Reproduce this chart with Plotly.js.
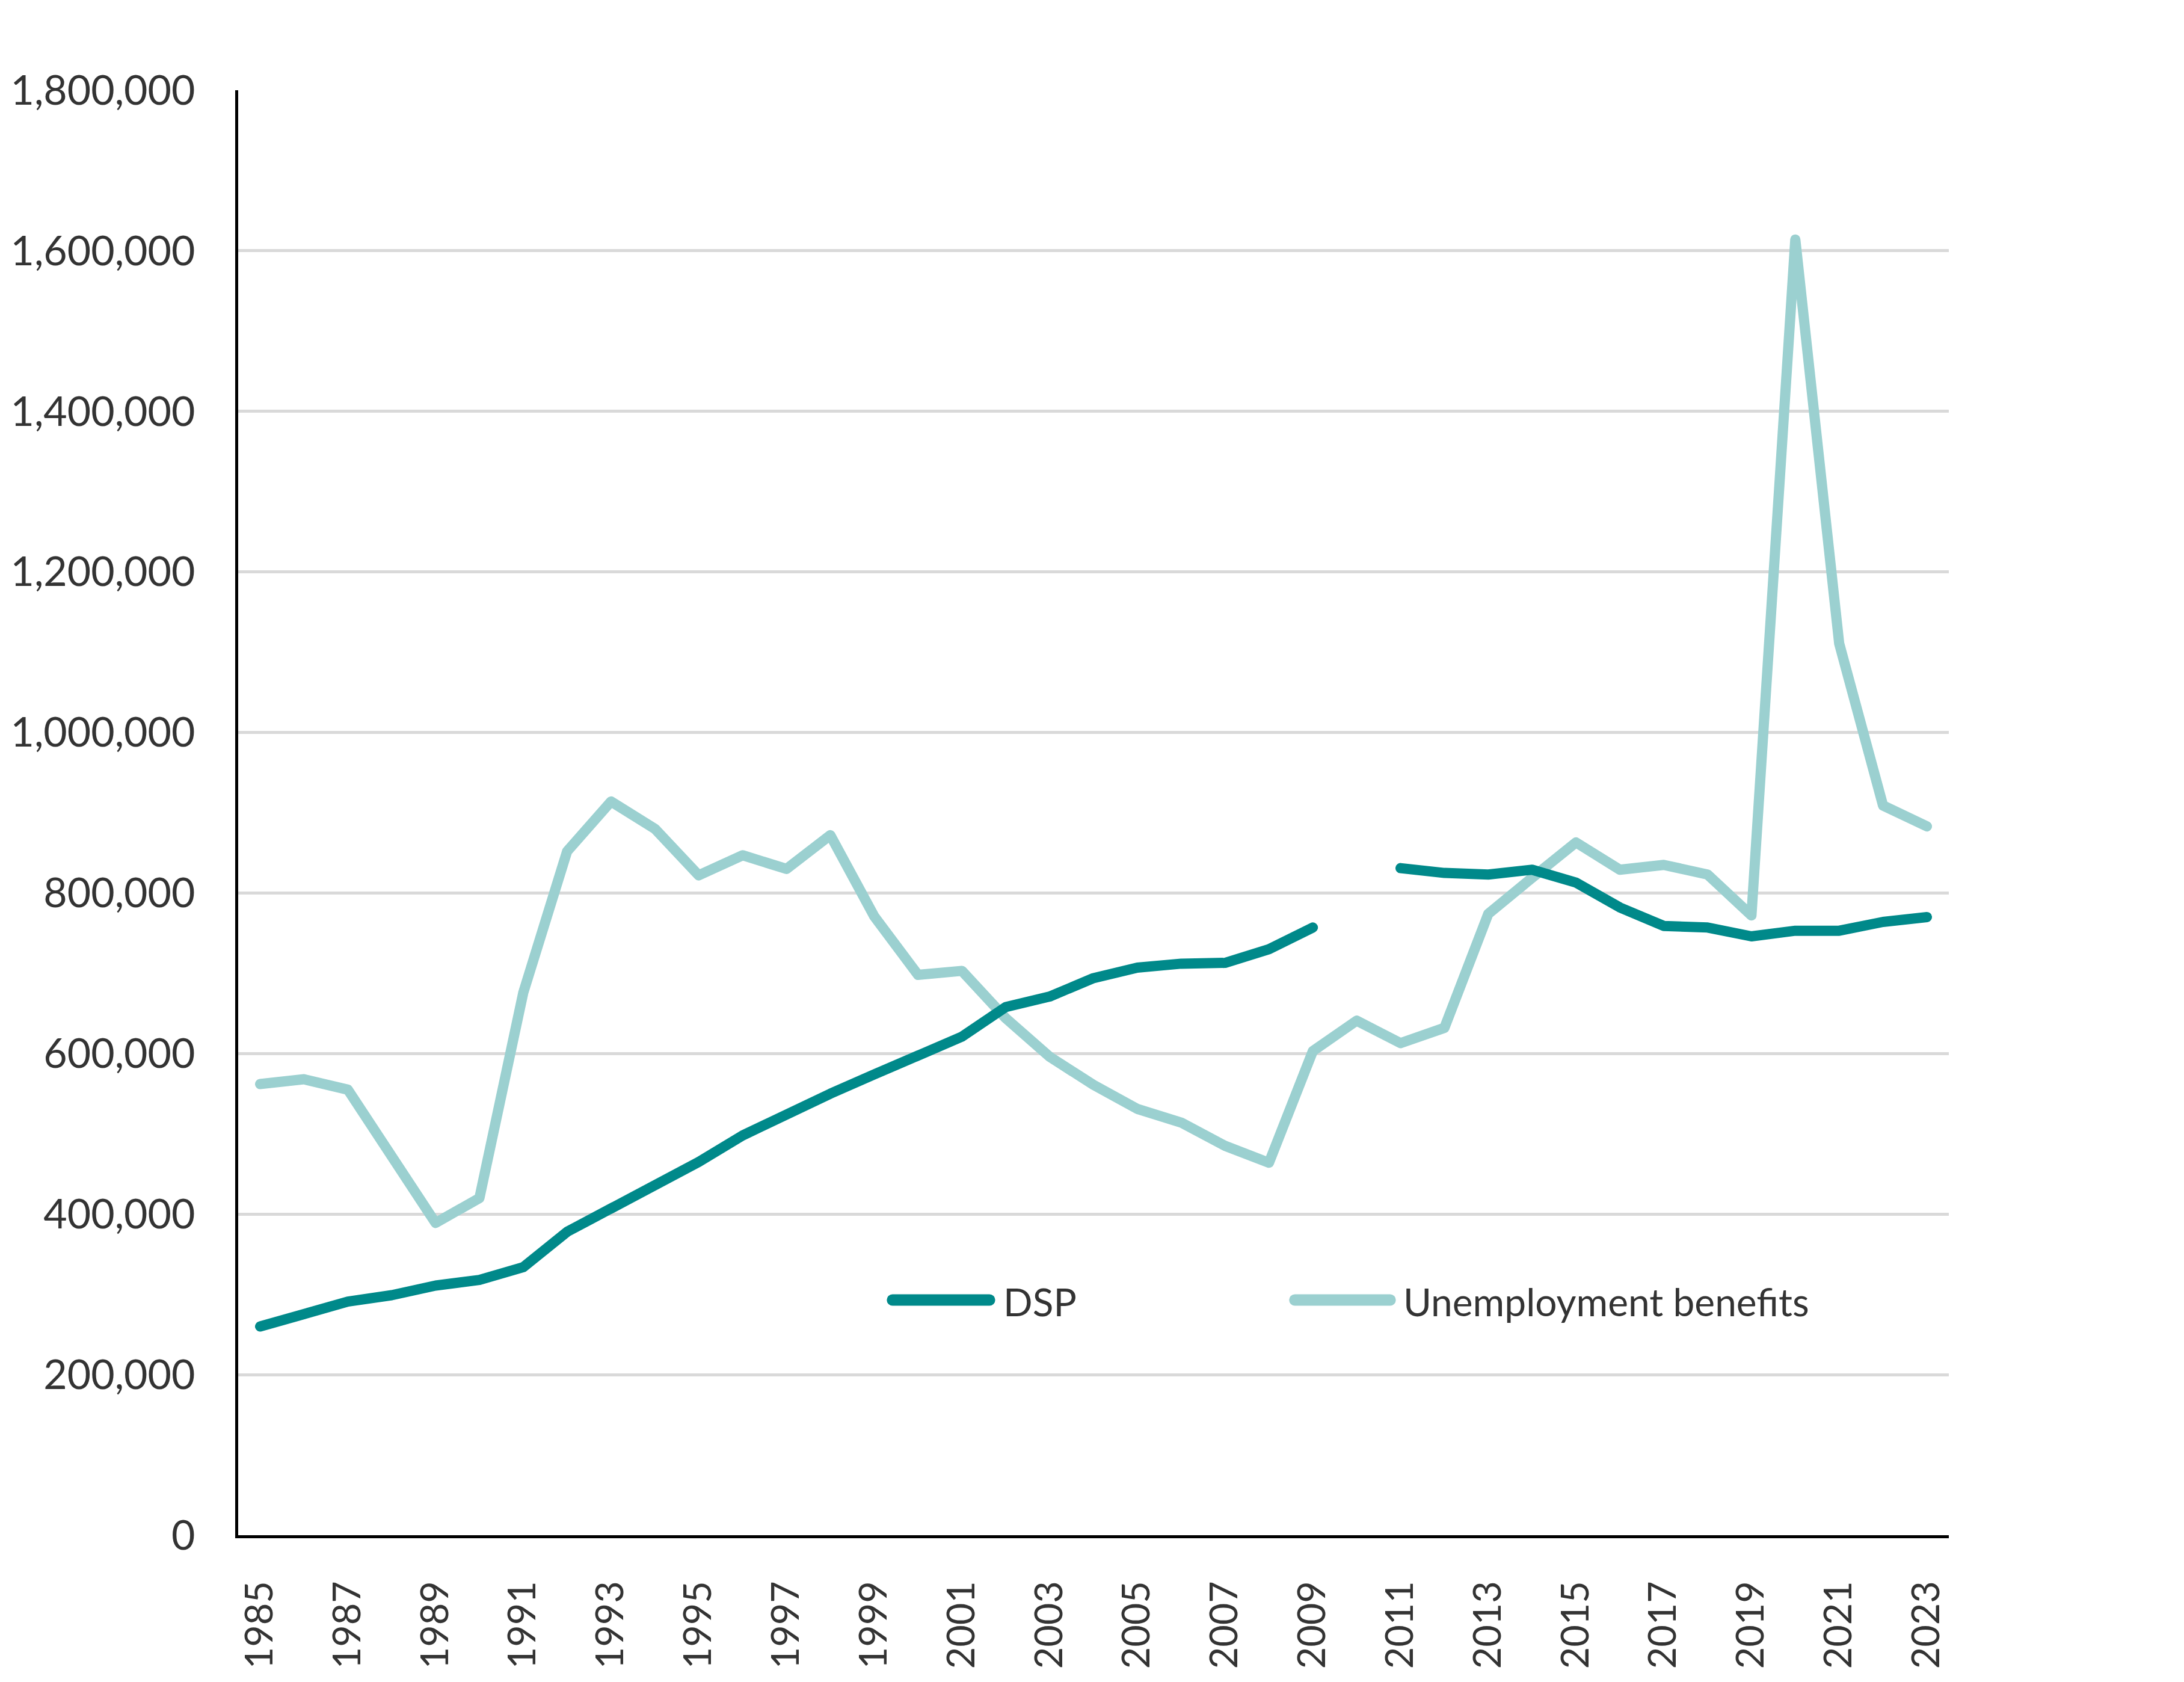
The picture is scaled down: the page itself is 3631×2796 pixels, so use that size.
<!DOCTYPE html>
<html>
<head>
<meta charset="utf-8">
<script src="https://cdn.plot.ly/plotly-3.0.1.min.js"></script>
<style>
  html, body { margin: 0; padding: 0; background: #ffffff; }
  #chart { width: 3631px; height: 2796px; }
  #chart .scatterlayer .js-line { stroke-linecap: round; stroke-linejoin: round; }
  #chart .shapelayer path { stroke-linecap: round; }
</style>
</head>
<body>
<div id="chart"></div>
<script>
// ---- Data ----
const years = [
  '1985','1986','1987','1988','1989','1990','1991','1992','1993','1994',
  '1995','1996','1997','1998','1999','2000','2001','2002','2003','2004',
  '2005','2006','2007','2008','2009','2010','2011','2012','2013','2014',
  '2015','2016','2017','2018','2019','2020','2021','2022','2023'
];

const dspValues = [
  260000, 274000, 291000, 299000, 311000, 318000, 334000, 378000, 406000, 437000,
  465000, 498000, 525000, 550000, 574000, 598000, 621000, 658000, 671000, 694000,
  707000, 712000, 713000, 730000, 757000, null,   831000, 825000, 823000, 829000,
  813000, 782000, 759000, 757000, 746000, 753000, 753000, 764000, 770000
];

const unemploymentValues = [
  562000, 568000, 555000, 473000, 389000, 420000, 676000, 852000, 914000, 880000,
  822000, 847000, 830000, 872000, 771000, 698000, 703000, 644000, 596000, 561000,
  531000, 514000, 485000, 464000, 603000, 641000, 613000, 632000, 774000, 819000,
  863000, 829000, 835000, 823000, 772000, 1614000, 1111000, 909000, 883000
];

const xTickLabels = [
  '1985','1987','1989','1991','1993','1995','1997','1999','2001','2003',
  '2005','2007','2009','2011','2013','2015','2017','2019','2021','2023'
];

const yTickValues = [0, 200000, 400000, 600000, 800000, 1000000, 1200000, 1400000, 1600000, 1800000];
const yTickLabels = ['0','200,000','400,000','600,000','800,000','1,000,000','1,200,000','1,400,000','1,600,000','1,800,000'];

const seriesNames = ['DSP', 'Unemployment benefits'];
const seriesColors = ['#00898A', '#9BD0D0'];

// ---- Chart ----
const FONT = 'Lato, "Open Sans", "Liberation Sans", sans-serif';
const TEXT = '#333333';
const LW = 17;

const traces = [
  {
    type: 'scatter', mode: 'lines', name: seriesNames[1],
    x: years, y: unemploymentValues, connectgaps: false,
    line: { color: seriesColors[1], width: LW, shape: 'linear' },
    hoverinfo: 'x+y+name'
  },
  {
    type: 'scatter', mode: 'lines', name: seriesNames[0],
    x: years, y: dspValues, connectgaps: false,
    line: { color: seriesColors[0], width: LW, shape: 'linear' },
    hoverinfo: 'x+y+name'
  }
];

// custom legend (long line swatches as in the reference)
const legendY = 0.1628;
const legendItems = [
  { name: seriesNames[0], color: seriesColors[0], x0: 0.3825, x1: 0.4392, tx: 0.4466 },
  { name: seriesNames[1], color: seriesColors[1], x0: 0.6177, x1: 0.6734, tx: 0.6804 }
];
const shapes = legendItems.map(it => ({
  type: 'line', xref: 'paper', yref: 'paper',
  x0: it.x0, x1: it.x1, y0: legendY, y1: legendY,
  line: { color: it.color, width: 19 }, layer: 'above'
}));
const annotations = legendItems.map(it => ({
  xref: 'paper', yref: 'paper', x: it.tx, y: legendY - 0.001,
  xanchor: 'left', yanchor: 'middle', showarrow: false,
  text: it.name, font: { family: FONT, size: 64, color: TEXT }
}));

const layout = {
  width: 3631, height: 2796,
  paper_bgcolor: '#ffffff', plot_bgcolor: '#ffffff',
  margin: { l: 396, r: 391, t: 150, b: 244, pad: 0 },
  showlegend: false,
  font: { family: FONT, color: TEXT },
  xaxis: {
    type: 'category',
    categoryorder: 'array', categoryarray: years,
    range: [-0.5, years.length - 0.5],
    tickmode: 'array', tickvals: xTickLabels, ticktext: xTickLabels,
    tickangle: -90,
    tickfont: { family: FONT, size: 63, color: TEXT },
    ticks: '', ticklabelstandoff: 46,
    showgrid: false, zeroline: false,
    showline: true, linecolor: '#000000', linewidth: 5,
    fixedrange: true
  },
  yaxis: {
    range: [0, 1800000],
    tickmode: 'array', tickvals: yTickValues, ticktext: yTickLabels,
    tickfont: { family: FONT, size: 68, color: TEXT },
    ticks: '', ticklabelstandoff: 53,
    showgrid: true, gridcolor: '#D9D9D9', gridwidth: 5,
    zeroline: false,
    showline: true, linecolor: '#000000', linewidth: 5,
    fixedrange: true
  },
  shapes: shapes,
  annotations: annotations
};

Plotly.newPlot('chart', traces, layout, { displayModeBar: false, staticPlot: true });
</script>
</body>
</html>
